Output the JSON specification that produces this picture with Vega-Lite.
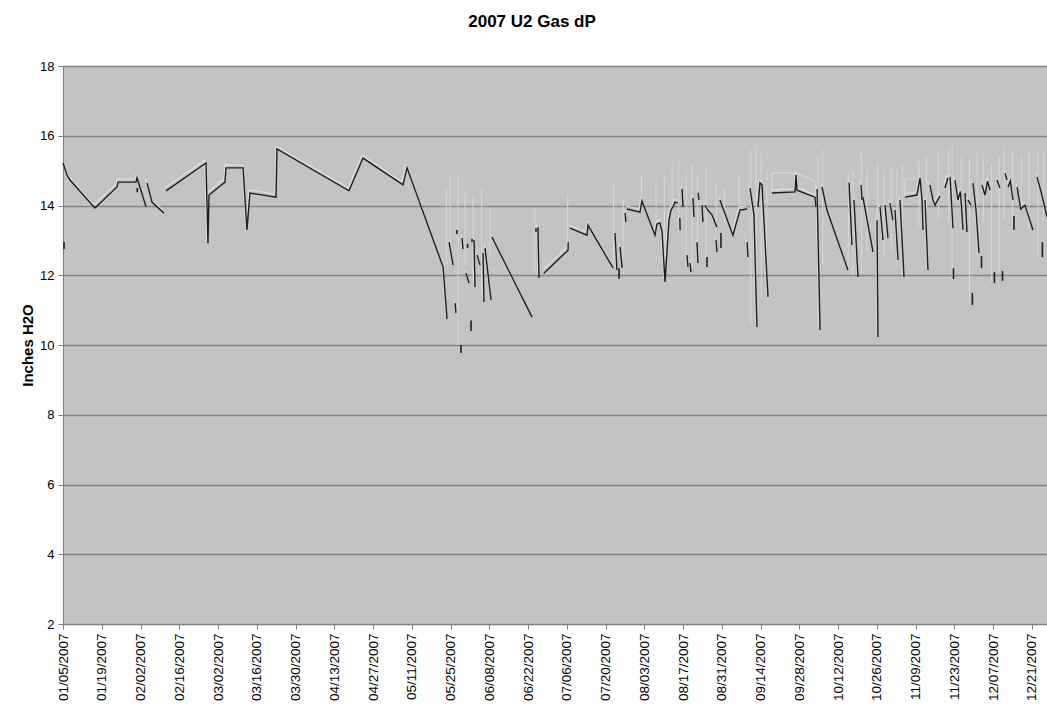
{
  "$schema": "https://vega.github.io/schema/vega-lite/v6.json",
  "width": 984,
  "height": 558,
  "autosize": {"type": "none"},
  "padding": {"left": 63, "top": 66, "right": 0, "bottom": 88},
  "background": "white",
  "title": {"text": "2007 U2 Gas dP", "font": "Liberation Sans", "fontSize": 17, "fontWeight": "bold", "color": "#000000", "anchor": "middle", "offset": 29, "dx": -23},
  "config": {
    "view": {"fill": "#c3c3c3", "stroke": null},
    "axis": {"labelFont": "Liberation Sans", "titleFont": "Liberation Sans", "labelColor": "#000000", "titleColor": "#000000", "domainColor": "#808080", "tickColor": "#808080", "tickSize": 5}
  },
  "datasets": {
    "main": [
      {"t": "2007-01-05T00:00", "v": 15.22, "s": 1},
      {"t": "2007-01-06T11:00", "v": 14.87, "s": 1},
      {"t": "2007-01-07T13:00", "v": 14.73, "s": 1},
      {"t": "2007-01-16T13:00", "v": 13.93, "s": 1},
      {"t": "2007-01-24T12:00", "v": 14.53, "s": 1},
      {"t": "2007-01-24T21:00", "v": 14.67, "s": 1},
      {"t": "2007-01-31T09:00", "v": 14.67, "s": 1},
      {"t": "2007-01-31T18:00", "v": 14.79, "s": 1},
      {"t": "2007-02-04T00:00", "v": 13.96, "s": 1},
      {"t": "2007-02-04T08:00", "v": 14.65, "s": 3},
      {"t": "2007-02-06T04:00", "v": 14.10, "s": 3},
      {"t": "2007-02-10T12:00", "v": 13.78, "s": 3},
      {"t": "2007-02-11T05:00", "v": 14.42, "s": 4},
      {"t": "2007-02-25T16:00", "v": 15.22, "s": 4},
      {"t": "2007-02-26T09:00", "v": 12.92, "s": 4},
      {"t": "2007-02-26T18:00", "v": 14.30, "s": 4},
      {"t": "2007-03-04T13:00", "v": 14.67, "s": 4},
      {"t": "2007-03-04T21:00", "v": 15.08, "s": 4},
      {"t": "2007-03-11T01:00", "v": 15.08, "s": 4},
      {"t": "2007-03-12T11:00", "v": 13.30, "s": 4},
      {"t": "2007-03-13T13:00", "v": 14.36, "s": 4},
      {"t": "2007-03-22T23:00", "v": 14.24, "s": 4},
      {"t": "2007-03-23T07:00", "v": 15.62, "s": 4},
      {"t": "2007-04-18T08:00", "v": 14.42, "s": 4},
      {"t": "2007-04-23T09:00", "v": 15.36, "s": 4},
      {"t": "2007-05-07T20:00", "v": 14.59, "s": 4},
      {"t": "2007-05-09T07:00", "v": 15.08, "s": 4},
      {"t": "2007-05-22T07:00", "v": 12.24, "s": 4},
      {"t": "2007-05-23T18:00", "v": 10.75, "s": 4},
      {"t": "2007-05-24T11:00", "v": 12.95, "s": 5},
      {"t": "2007-05-25T22:00", "v": 12.29, "s": 5},
      {"t": "2007-05-26T15:00", "v": 11.20, "s": 6},
      {"t": "2007-05-26T23:00", "v": 10.92, "s": 6},
      {"t": "2007-05-29T04:00", "v": 13.07, "s": 7},
      {"t": "2007-05-29T12:00", "v": 12.75, "s": 7},
      {"t": "2007-05-30T14:00", "v": 12.06, "s": 8},
      {"t": "2007-05-31T16:00", "v": 11.78, "s": 8},
      {"t": "2007-06-02T12:00", "v": 13.01, "s": 9},
      {"t": "2007-06-02T20:00", "v": 11.66, "s": 9},
      {"t": "2007-06-03T14:00", "v": 12.58, "s": 10},
      {"t": "2007-06-04T16:00", "v": 12.29, "s": 10},
      {"t": "2007-06-05T18:00", "v": 12.64, "s": 11},
      {"t": "2007-06-06T02:00", "v": 11.23, "s": 11},
      {"t": "2007-06-06T11:00", "v": 12.78, "s": 12},
      {"t": "2007-06-08T15:00", "v": 11.29, "s": 12},
      {"t": "2007-06-08T23:00", "v": 13.10, "s": 13},
      {"t": "2007-06-23T11:00", "v": 10.80, "s": 13},
      {"t": "2007-06-25T14:00", "v": 13.38, "s": 14},
      {"t": "2007-06-25T23:00", "v": 11.92, "s": 14},
      {"t": "2007-06-27T18:00", "v": 12.06, "s": 15},
      {"t": "2007-07-06T11:00", "v": 12.72, "s": 15},
      {"t": "2007-07-06T13:00", "v": 12.95, "s": 15},
      {"t": "2007-07-07T04:00", "v": 13.35, "s": 16},
      {"t": "2007-07-13T07:00", "v": 13.15, "s": 16},
      {"t": "2007-07-13T16:00", "v": 13.44, "s": 16},
      {"t": "2007-07-22T17:00", "v": 12.21, "s": 16},
      {"t": "2007-07-23T10:00", "v": 13.21, "s": 17},
      {"t": "2007-07-24T03:00", "v": 12.15, "s": 17},
      {"t": "2007-07-25T06:00", "v": 12.81, "s": 18},
      {"t": "2007-07-25T23:00", "v": 12.21, "s": 18},
      {"t": "2007-07-27T01:00", "v": 13.78, "s": 19},
      {"t": "2007-07-27T09:00", "v": 13.53, "s": 19},
      {"t": "2007-07-27T18:00", "v": 13.90, "s": 20},
      {"t": "2007-08-01T11:00", "v": 13.81, "s": 20},
      {"t": "2007-08-02T04:00", "v": 14.13, "s": 20},
      {"t": "2007-08-06T21:00", "v": 13.15, "s": 20},
      {"t": "2007-08-07T14:00", "v": 13.47, "s": 20},
      {"t": "2007-08-08T16:00", "v": 13.50, "s": 20},
      {"t": "2007-08-09T10:00", "v": 13.24, "s": 20},
      {"t": "2007-08-10T12:00", "v": 11.81, "s": 20},
      {"t": "2007-08-11T22:00", "v": 13.58, "s": 20},
      {"t": "2007-08-12T16:00", "v": 13.87, "s": 20},
      {"t": "2007-08-13T09:00", "v": 13.96, "s": 20},
      {"t": "2007-08-14T02:00", "v": 14.10, "s": 20},
      {"t": "2007-08-15T04:00", "v": 14.07, "s": 20},
      {"t": "2007-08-15T20:00", "v": 13.64, "s": 21},
      {"t": "2007-08-15T23:00", "v": 13.30, "s": 21},
      {"t": "2007-08-16T15:00", "v": 14.47, "s": 22},
      {"t": "2007-08-17T00:00", "v": 13.96, "s": 22},
      {"t": "2007-08-18T10:00", "v": 12.58, "s": 23},
      {"t": "2007-08-18T19:00", "v": 12.24, "s": 23},
      {"t": "2007-08-19T12:00", "v": 12.35, "s": 24},
      {"t": "2007-08-19T21:00", "v": 12.09, "s": 24},
      {"t": "2007-08-20T14:00", "v": 14.21, "s": 25},
      {"t": "2007-08-20T23:00", "v": 13.67, "s": 25},
      {"t": "2007-08-22T01:00", "v": 12.95, "s": 26},
      {"t": "2007-08-22T09:00", "v": 12.35, "s": 26},
      {"t": "2007-08-22T11:00", "v": 14.36, "s": 27},
      {"t": "2007-08-22T18:00", "v": 14.16, "s": 27},
      {"t": "2007-08-23T20:00", "v": 14.01, "s": 28},
      {"t": "2007-08-24T05:00", "v": 13.53, "s": 28},
      {"t": "2007-08-24T23:00", "v": 14.01, "s": 29},
      {"t": "2007-08-26T00:00", "v": 13.87, "s": 29},
      {"t": "2007-08-27T11:00", "v": 13.73, "s": 29},
      {"t": "2007-08-29T06:00", "v": 13.38, "s": 29},
      {"t": "2007-08-28T22:00", "v": 13.01, "s": 31},
      {"t": "2007-08-29T06:00", "v": 12.67, "s": 31},
      {"t": "2007-08-30T08:00", "v": 14.16, "s": 32},
      {"t": "2007-09-04T01:00", "v": 13.15, "s": 32},
      {"t": "2007-09-06T14:00", "v": 13.87, "s": 32},
      {"t": "2007-09-09T03:00", "v": 13.90, "s": 32},
      {"t": "2007-09-09T03:00", "v": 12.95, "s": 33},
      {"t": "2007-09-09T11:00", "v": 12.52, "s": 33},
      {"t": "2007-09-10T05:00", "v": 14.50, "s": 34},
      {"t": "2007-09-11T15:00", "v": 13.73, "s": 34},
      {"t": "2007-09-12T17:00", "v": 10.52, "s": 34},
      {"t": "2007-09-13T02:00", "v": 13.96, "s": 36},
      {"t": "2007-09-13T19:00", "v": 14.65, "s": 36},
      {"t": "2007-09-14T13:00", "v": 14.59, "s": 36},
      {"t": "2007-09-14T21:00", "v": 14.07, "s": 36},
      {"t": "2007-09-16T17:00", "v": 11.38, "s": 36},
      {"t": "2007-09-18T03:00", "v": 14.36, "s": 37},
      {"t": "2007-09-26T11:00", "v": 14.39, "s": 37},
      {"t": "2007-09-26T19:00", "v": 14.87, "s": 37},
      {"t": "2007-09-27T04:00", "v": 14.44, "s": 37},
      {"t": "2007-10-03T16:00", "v": 14.24, "s": 37},
      {"t": "2007-10-04T01:00", "v": 13.96, "s": 37},
      {"t": "2007-10-04T10:00", "v": 14.47, "s": 38},
      {"t": "2007-10-05T12:00", "v": 10.43, "s": 38},
      {"t": "2007-10-06T05:00", "v": 14.53, "s": 39},
      {"t": "2007-10-08T00:00", "v": 13.87, "s": 39},
      {"t": "2007-10-15T14:00", "v": 12.15, "s": 39},
      {"t": "2007-10-15T23:00", "v": 14.65, "s": 40},
      {"t": "2007-10-17T01:00", "v": 12.87, "s": 40},
      {"t": "2007-10-17T18:00", "v": 14.16, "s": 41},
      {"t": "2007-10-19T05:00", "v": 11.95, "s": 41},
      {"t": "2007-10-20T07:00", "v": 14.59, "s": 42},
      {"t": "2007-10-20T16:00", "v": 14.16, "s": 42},
      {"t": "2007-10-21T00:00", "v": 14.24, "s": 43},
      {"t": "2007-10-22T20:00", "v": 13.44, "s": 43},
      {"t": "2007-10-24T15:00", "v": 12.67, "s": 43},
      {"t": "2007-10-26T02:00", "v": 13.58, "s": 44},
      {"t": "2007-10-26T10:00", "v": 10.23, "s": 44},
      {"t": "2007-10-27T04:00", "v": 13.96, "s": 45},
      {"t": "2007-10-28T06:00", "v": 13.01, "s": 45},
      {"t": "2007-10-28T23:00", "v": 14.01, "s": 46},
      {"t": "2007-10-30T01:00", "v": 13.07, "s": 46},
      {"t": "2007-10-30T18:00", "v": 14.07, "s": 47},
      {"t": "2007-10-31T20:00", "v": 13.58, "s": 47},
      {"t": "2007-11-01T14:00", "v": 13.87, "s": 48},
      {"t": "2007-11-02T16:00", "v": 12.44, "s": 48},
      {"t": "2007-11-03T09:00", "v": 14.16, "s": 49},
      {"t": "2007-11-04T20:00", "v": 11.95, "s": 49},
      {"t": "2007-11-05T05:00", "v": 14.24, "s": 50},
      {"t": "2007-11-09T12:00", "v": 14.30, "s": 50},
      {"t": "2007-11-10T15:00", "v": 14.79, "s": 50},
      {"t": "2007-11-11T08:00", "v": 14.16, "s": 50},
      {"t": "2007-11-11T17:00", "v": 13.30, "s": 50},
      {"t": "2007-11-12T10:00", "v": 14.16, "s": 51},
      {"t": "2007-11-13T12:00", "v": 12.15, "s": 51},
      {"t": "2007-11-14T05:00", "v": 14.59, "s": 52},
      {"t": "2007-11-15T07:00", "v": 14.16, "s": 52},
      {"t": "2007-11-16T01:00", "v": 14.01, "s": 52},
      {"t": "2007-11-17T20:00", "v": 14.27, "s": 52},
      {"t": "2007-11-19T15:00", "v": 14.50, "s": 53},
      {"t": "2007-11-20T17:00", "v": 14.79, "s": 53},
      {"t": "2007-11-21T11:00", "v": 14.82, "s": 54},
      {"t": "2007-11-22T13:00", "v": 13.35, "s": 54},
      {"t": "2007-11-23T06:00", "v": 14.73, "s": 55},
      {"t": "2007-11-24T08:00", "v": 14.16, "s": 55},
      {"t": "2007-11-25T05:00", "v": 14.40, "s": 55},
      {"t": "2007-11-26T03:00", "v": 13.30, "s": 55},
      {"t": "2007-11-26T21:00", "v": 14.36, "s": 56},
      {"t": "2007-11-27T14:00", "v": 13.24, "s": 56},
      {"t": "2007-11-27T23:00", "v": 14.16, "s": 57},
      {"t": "2007-11-29T01:00", "v": 14.01, "s": 57},
      {"t": "2007-11-29T18:00", "v": 14.65, "s": 58},
      {"t": "2007-11-30T20:00", "v": 13.87, "s": 58},
      {"t": "2007-12-01T22:00", "v": 12.64, "s": 58},
      {"t": "2007-12-03T00:00", "v": 14.59, "s": 59},
      {"t": "2007-12-04T02:00", "v": 14.30, "s": 59},
      {"t": "2007-12-05T00:00", "v": 14.70, "s": 59},
      {"t": "2007-12-05T22:00", "v": 14.44, "s": 59},
      {"t": "2007-12-08T10:00", "v": 14.73, "s": 60},
      {"t": "2007-12-09T12:00", "v": 14.50, "s": 60},
      {"t": "2007-12-11T08:00", "v": 14.93, "s": 61},
      {"t": "2007-12-12T01:00", "v": 14.73, "s": 61},
      {"t": "2007-12-12T10:00", "v": 14.53, "s": 62},
      {"t": "2007-12-13T06:00", "v": 14.70, "s": 62},
      {"t": "2007-12-14T05:00", "v": 14.16, "s": 62},
      {"t": "2007-12-15T16:00", "v": 14.53, "s": 64},
      {"t": "2007-12-17T00:00", "v": 13.90, "s": 64},
      {"t": "2007-12-18T13:00", "v": 14.01, "s": 64},
      {"t": "2007-12-21T10:00", "v": 13.30, "s": 64},
      {"t": "2007-12-22T21:00", "v": 14.82, "s": 65},
      {"t": "2007-12-24T16:00", "v": 14.30, "s": 65},
      {"t": "2007-12-26T12:00", "v": 13.67, "s": 65}
    ],
    "ticks": [
      {"t": "2007-01-05T09:00", "lo": 12.75, "hi": 12.95},
      {"t": "2007-01-31T20:00", "lo": 14.38, "hi": 14.50},
      {"t": "2007-05-27T08:00", "lo": 13.18, "hi": 13.30},
      {"t": "2007-05-28T19:00", "lo": 9.77, "hi": 10.00},
      {"t": "2007-05-31T04:00", "lo": 12.78, "hi": 12.90},
      {"t": "2007-06-01T10:00", "lo": 10.40, "hi": 10.70},
      {"t": "2007-06-01T19:00", "lo": 12.95, "hi": 13.05},
      {"t": "2007-06-24T21:00", "lo": 13.25, "hi": 13.35},
      {"t": "2007-07-24T21:00", "lo": 11.90, "hi": 12.20},
      {"t": "2007-08-25T16:00", "lo": 12.24, "hi": 12.52},
      {"t": "2007-08-30T17:00", "lo": 12.78, "hi": 13.21},
      {"t": "2007-11-22T17:00", "lo": 11.89, "hi": 12.20},
      {"t": "2007-11-29T13:00", "lo": 11.15, "hi": 11.49},
      {"t": "2007-12-02T20:00", "lo": 12.21, "hi": 12.55},
      {"t": "2007-12-07T12:00", "lo": 11.78, "hi": 12.09},
      {"t": "2007-12-10T10:00", "lo": 11.84, "hi": 12.12},
      {"t": "2007-12-14T13:00", "lo": 13.30, "hi": 13.70},
      {"t": "2007-12-24T20:00", "lo": 12.52, "hi": 12.95}
    ],
    "spikes": [
      {"t": "2007-05-23T12:00", "lo": 12.3, "hi": 14.5},
      {"t": "2007-05-24T20:00", "lo": 12.5, "hi": 14.9},
      {"t": "2007-05-27T17:00", "lo": 10.0, "hi": 14.9},
      {"t": "2007-05-30T06:00", "lo": 12.3, "hi": 14.4},
      {"t": "2007-06-02T03:00", "lo": 11.8, "hi": 14.3},
      {"t": "2007-06-05T06:00", "lo": 11.5, "hi": 14.5},
      {"t": "2007-06-08T06:00", "lo": 12.5, "hi": 13.9},
      {"t": "2007-06-24T12:00", "lo": 12.1, "hi": 13.9},
      {"t": "2007-07-06T08:00", "lo": 12.8, "hi": 14.3},
      {"t": "2007-07-22T22:00", "lo": 12.3, "hi": 14.6},
      {"t": "2007-07-26T10:00", "lo": 12.5, "hi": 14.2},
      {"t": "2007-08-02T00:00", "lo": 13.8, "hi": 14.9},
      {"t": "2007-08-07T06:00", "lo": 13.2, "hi": 14.7},
      {"t": "2007-08-10T06:00", "lo": 12.0, "hi": 14.8},
      {"t": "2007-08-13T02:00", "lo": 13.6, "hi": 15.1},
      {"t": "2007-08-15T12:00", "lo": 13.3, "hi": 15.3},
      {"t": "2007-08-18T04:00", "lo": 12.4, "hi": 15.0},
      {"t": "2007-08-20T08:00", "lo": 12.2, "hi": 15.2},
      {"t": "2007-08-22T05:00", "lo": 12.3, "hi": 14.9},
      {"t": "2007-08-25T08:00", "lo": 12.5, "hi": 15.1},
      {"t": "2007-08-29T00:00", "lo": 13.2, "hi": 14.6},
      {"t": "2007-09-01T00:00", "lo": 13.5, "hi": 14.5},
      {"t": "2007-09-06T06:00", "lo": 13.9, "hi": 14.9},
      {"t": "2007-09-10T12:00", "lo": 10.6, "hi": 15.6},
      {"t": "2007-09-12T10:00", "lo": 10.6, "hi": 15.7},
      {"t": "2007-09-14T06:00", "lo": 11.4, "hi": 15.5},
      {"t": "2007-09-16T06:00", "lo": 11.5, "hi": 15.0},
      {"t": "2007-10-04T18:00", "lo": 10.5, "hi": 15.4},
      {"t": "2007-10-06T12:00", "lo": 12.3, "hi": 15.6},
      {"t": "2007-10-15T18:00", "lo": 12.2, "hi": 14.9},
      {"t": "2007-10-17T10:00", "lo": 12.0, "hi": 15.0},
      {"t": "2007-10-20T12:00", "lo": 12.1, "hi": 15.5},
      {"t": "2007-10-22T12:00", "lo": 12.7, "hi": 15.0},
      {"t": "2007-10-26T06:00", "lo": 10.3, "hi": 15.2},
      {"t": "2007-10-28T12:00", "lo": 12.5, "hi": 15.0},
      {"t": "2007-10-31T06:00", "lo": 12.7, "hi": 15.1},
      {"t": "2007-11-02T06:00", "lo": 12.4, "hi": 15.0},
      {"t": "2007-11-04T06:00", "lo": 12.0, "hi": 15.2},
      {"t": "2007-11-10T06:00", "lo": 13.4, "hi": 15.3},
      {"t": "2007-11-13T00:00", "lo": 12.2, "hi": 15.4},
      {"t": "2007-11-17T06:00", "lo": 13.6, "hi": 15.5},
      {"t": "2007-11-21T00:00", "lo": 13.5, "hi": 15.6},
      {"t": "2007-11-22T06:00", "lo": 11.9, "hi": 15.7},
      {"t": "2007-11-25T12:00", "lo": 13.2, "hi": 15.4},
      {"t": "2007-11-28T12:00", "lo": 11.2, "hi": 15.3},
      {"t": "2007-12-01T06:00", "lo": 12.6, "hi": 15.5},
      {"t": "2007-12-03T12:00", "lo": 13.5, "hi": 15.3},
      {"t": "2007-12-06T12:00", "lo": 11.8, "hi": 15.2},
      {"t": "2007-12-09T06:00", "lo": 12.1, "hi": 15.4},
      {"t": "2007-12-11T00:00", "lo": 13.6, "hi": 15.6},
      {"t": "2007-12-14T00:00", "lo": 13.2, "hi": 15.5},
      {"t": "2007-12-17T06:00", "lo": 13.9, "hi": 15.4},
      {"t": "2007-12-20T00:00", "lo": 13.3, "hi": 15.5},
      {"t": "2007-12-23T06:00", "lo": 12.5, "hi": 15.6},
      {"t": "2007-12-25T06:00", "lo": 13.6, "hi": 15.5}
    ],
    "ghost": [
      {"t": "2007-09-18T02:00", "v": 14.36, "s": 1},
      {"t": "2007-09-18T03:00", "v": 14.93, "s": 1},
      {"t": "2007-09-26T19:00", "v": 14.93, "s": 1},
      {"t": "2007-10-03T16:00", "v": 14.70, "s": 1},
      {"t": "2007-10-04T01:00", "v": 14.20, "s": 1},
      {"t": "2007-11-05T04:00", "v": 14.24, "s": 2},
      {"t": "2007-11-05T05:00", "v": 14.76, "s": 2},
      {"t": "2007-11-09T12:00", "v": 14.76, "s": 2}
    ]
  },
  "layer": [
    {
      "data": {"name": "main"},
      "mark": {"type": "line", "color": "#dedede", "strokeWidth": 1.2, "yOffset": -3, "xOffset": -1},
      "encoding": {
        "x": {"field": "t", "type": "temporal",
          "scale": {"domain": [{"year": 2007, "month": 1, "date": 5}, {"year": 2007, "month": 12, "date": 26, "hours": 12}]},
          "axis": {"title": null, "grid": false, "format": "%m/%d/%Y", "labelAngle": -90, "labelFontSize": 13.5, "labelPadding": 4, "labelOverlap": false, "labelBound": false, "labelFlush": false, "tickCount": 60,
            "values": [
              {"year": 2007, "month": 1, "date": 5}, {"year": 2007, "month": 1, "date": 19},
              {"year": 2007, "month": 2, "date": 2}, {"year": 2007, "month": 2, "date": 16},
              {"year": 2007, "month": 3, "date": 2}, {"year": 2007, "month": 3, "date": 16},
              {"year": 2007, "month": 3, "date": 30}, {"year": 2007, "month": 4, "date": 13},
              {"year": 2007, "month": 4, "date": 27}, {"year": 2007, "month": 5, "date": 11},
              {"year": 2007, "month": 5, "date": 25}, {"year": 2007, "month": 6, "date": 8},
              {"year": 2007, "month": 6, "date": 22}, {"year": 2007, "month": 7, "date": 6},
              {"year": 2007, "month": 7, "date": 20}, {"year": 2007, "month": 8, "date": 3},
              {"year": 2007, "month": 8, "date": 17}, {"year": 2007, "month": 8, "date": 31},
              {"year": 2007, "month": 9, "date": 14}, {"year": 2007, "month": 9, "date": 28},
              {"year": 2007, "month": 10, "date": 12}, {"year": 2007, "month": 10, "date": 26},
              {"year": 2007, "month": 11, "date": 9}, {"year": 2007, "month": 11, "date": 23},
              {"year": 2007, "month": 12, "date": 7}, {"year": 2007, "month": 12, "date": 21}
            ]}},
        "y": {"field": "v", "type": "quantitative",
          "scale": {"domain": [2, 18], "nice": false, "zero": false},
          "axis": {"title": "Inches H2O", "titleFontSize": 15, "titleFontWeight": "bold", "titlePadding": 4,
            "values": [2, 4, 6, 8, 10, 12, 14, 16, 18], "labelFontSize": 13, "labelPadding": 4,
            "grid": true, "gridColor": "#858585", "gridWidth": 1.5}},
        "detail": {"field": "s", "type": "nominal"}
      }
    },
    {
      "data": {"name": "spikes"},
      "mark": {"type": "rule", "color": "#d6d6d6", "strokeWidth": 1},
      "encoding": {
        "x": {"field": "t", "type": "temporal"},
        "y": {"field": "lo", "type": "quantitative"},
        "y2": {"field": "hi"}
      }
    },
    {
      "data": {"name": "ghost"},
      "mark": {"type": "line", "color": "#dadada", "strokeWidth": 1},
      "encoding": {
        "x": {"field": "t", "type": "temporal"},
        "y": {"field": "v", "type": "quantitative"},
        "detail": {"field": "s", "type": "nominal"}
      }
    },
    {
      "data": {"name": "main"},
      "mark": {"type": "line", "color": "#1e1e1e", "strokeWidth": 1.4},
      "encoding": {
        "x": {"field": "t", "type": "temporal"},
        "y": {"field": "v", "type": "quantitative"},
        "detail": {"field": "s", "type": "nominal"}
      }
    },
    {
      "data": {"name": "ticks"},
      "mark": {"type": "rule", "color": "#1e1e1e", "strokeWidth": 1.6},
      "encoding": {
        "x": {"field": "t", "type": "temporal"},
        "y": {"field": "lo", "type": "quantitative"},
        "y2": {"field": "hi"}
      }
    }
  ]
}
